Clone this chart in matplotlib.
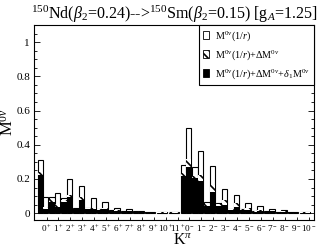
import matplotlib
matplotlib.use("Agg")
import matplotlib.pyplot as plt
import matplotlib.patches as mpatches
import numpy as np

plt.rcParams['font.family'] = ['Liberation Serif', 'DejaVu Serif']
plt.rcParams['mathtext.fontset'] = 'custom'
plt.rcParams['mathtext.rm'] = 'Liberation Serif'
plt.rcParams['mathtext.it'] = 'Liberation Serif:italic'
plt.rcParams['hatch.linewidth'] = 1.2

# K^pi categories
labels = ["0$^+$", "1$^+$", "2$^+$", "3$^+$", "4$^+$", "5$^+$", "6$^+$", "7$^+$", "8$^+$", "9$^+$", "10$^+$", "11$^+$",
          "0$^-$", "1$^-$", "2$^-$", "3$^-$", "4$^-$", "5$^-$", "6$^-$", "7$^-$", "8$^-$", "9$^-$", "10$^-$"]

# left bar of each pair
white_L = [0.31, 0.095, 0.086, 0.033, 0.033, 0.027, 0.018, 0.01, 0.01, 0.006, 0.005, 0.005,
           0.28, 0.267, 0.064, 0.06, 0.027, 0.027, 0.012, 0.01, 0.008, 0.006, 0.005]
hatch_L = [0.24, 0.08, 0.076, 0.027, 0.028, 0.022, 0.014, 0.008, 0.008, 0.005, 0.004, 0.004,
           0.235, 0.216, 0.053, 0.053, 0.022, 0.022, 0.01, 0.008, 0.006, 0.005, 0.004]
black_L = [0.225, 0.066, 0.066, 0.022, 0.025, 0.018, 0.012, 0.006, 0.006, 0.004, 0.003, 0.003,
           0.215, 0.203, 0.041, 0.041, 0.02, 0.018, 0.008, 0.006, 0.005, 0.004, 0.003]
# right bar of each pair
white_R = [0.092, 0.115, 0.197, 0.16, 0.086, 0.064, 0.033, 0.025, 0.012, 0.008, 0.005, 0.005,
           0.495, 0.362, 0.273, 0.14, 0.109, 0.06, 0.041, 0.025, 0.016, 0.008, 0.005]
hatch_R = [0.037, 0.051, 0.109, 0.092, 0.033, 0.033, 0.018, 0.012, 0.008, 0.006, 0.004, 0.004,
           0.316, 0.222, 0.162, 0.076, 0.057, 0.03, 0.02, 0.014, 0.01, 0.006, 0.004]
black_R = [0.027, 0.037, 0.095, 0.076, 0.025, 0.022, 0.014, 0.01, 0.006, 0.005, 0.003, 0.003,
           0.271, 0.189, 0.125, 0.047, 0.037, 0.02, 0.012, 0.01, 0.008, 0.005, 0.003]

x = np.arange(len(labels))
w = 0.45

fig = plt.figure(figsize=(3.17, 2.5), dpi=100)
ax = fig.add_axes([0.108, 0.12, 0.883, 0.78])

for off, wh, ha, bl in [(-w / 2, white_L, hatch_L, black_L), (w / 2, white_R, hatch_R, black_R)]:
    ax.bar(x + off, wh, w, color="white", edgecolor="black", linewidth=0.8)
    ax.bar(x + off, ha, w, color="white", edgecolor="black", hatch="\\\\\\\\", linewidth=0)
    ax.bar(x + off, bl, w, color="black", edgecolor="black", linewidth=0)

ax.set_xlim(-0.73, 22.77)
ax.set_ylim(-0.04, 1.1)
ax.set_xticks(x + 0.3)
ax.set_xticklabels(labels, fontsize=6.6)
ax.set_yticks([0, 0.2, 0.4, 0.6, 0.8, 1.0])
ax.set_yticklabels(["0", "0.2", "0.4", "0.6", "0.8", "1"], fontsize=8)
ax.set_yticks(np.arange(0, 1.1, 0.05), minor=True)
ax.tick_params(axis="y", direction="in", right=True, which="both", length=4, width=0.6, pad=3)
ax.tick_params(axis="y", which="minor", length=2)
ax.tick_params(axis="x", direction="in", length=2, width=0.6, pad=2)
for s in ax.spines.values():
    s.set_linewidth(0.8)

ax.set_ylabel("M$^{0\\nu}$", fontsize=12)
ax.yaxis.set_label_coords(-0.062, 0.5)
ax.set_xlabel("K$^{\\pi}$", fontsize=11.5)
ax.xaxis.set_label_coords(0.53, -0.068)
ax.set_title("$^{150}$Nd($\\beta_2$=0.24)-->$^{150}$Sm($\\beta_2$=0.15) [g$_A$=1.25]", fontsize=11.5, pad=4)

handles = [mpatches.Patch(facecolor="white", edgecolor="black", linewidth=0.6),
           mpatches.Patch(facecolor="white", edgecolor="black", hatch="\\\\\\\\", linewidth=0.6),
           mpatches.Patch(facecolor="black", edgecolor="black", linewidth=0.6)]
names = ["M$^{0\\nu}$(1/$r$)", "M$^{0\\nu}$(1/$r$)+$\\Delta$M$^{0\\nu}$",
         "M$^{0\\nu}$(1/$r$)+$\\Delta$M$^{0\\nu}$+$\\delta_1$M$^{0\\nu}$"]
leg = ax.legend(handles, names, loc="upper right", fontsize=7.3, frameon=True, fancybox=False,
                edgecolor="black", framealpha=1, borderaxespad=0, handlelength=0.6, handleheight=0.8,
                handletextpad=0.6, labelspacing=0.5, borderpad=0.4)
leg.get_frame().set_linewidth(0.8)

fig.savefig("out.png", dpi=100)
